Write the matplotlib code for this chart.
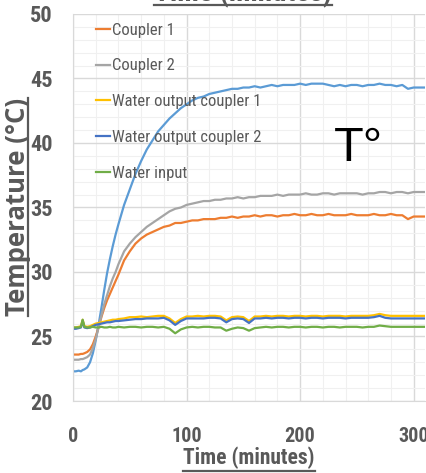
import matplotlib
matplotlib.use("Agg")
import matplotlib.pyplot as plt
from matplotlib.lines import Line2D
from matplotlib.ticker import MultipleLocator

minutes = [0, 2.5, 5, 7, 8.5, 10, 12.5, 15, 17.5, 20, 22.5, 25, 27.5, 30, 32.5, 35, 37.5, 40,
           45, 50, 55, 60, 65, 70, 75, 80, 85, 90, 95, 100, 105, 110, 115, 120, 125, 130,
           135, 140, 145, 150, 155, 160, 165, 170, 175, 180, 185, 190, 195, 200, 205, 210,
           215, 220, 225, 230, 235, 240, 245, 250, 255, 260, 265, 270, 275, 280, 285, 290,
           295, 300, 305, 310]

coupler_3 = [22.3, 22.3, 22.35, 22.3, 22.4, 22.45, 22.6, 23.0, 23.7, 24.7, 25.9, 27.2, 28.6, 29.9,
             31.0, 32.0, 32.9, 33.7, 35.2, 36.4, 37.6, 38.6, 39.5, 40.2, 40.9, 41.4, 41.9, 42.3,
             42.7, 43.0, 43.3, 43.5, 43.6, 43.8, 43.9, 44.0, 44.1, 44.2, 44.2, 44.3, 44.3, 44.4,
             44.3, 44.4, 44.5, 44.4, 44.5, 44.5, 44.5, 44.6, 44.5, 44.6, 44.6, 44.6, 44.5, 44.4,
             44.5, 44.4, 44.5, 44.5, 44.4, 44.5, 44.5, 44.6, 44.5, 44.5, 44.4, 44.5, 44.2, 44.3,
             44.3, 44.3]

coupler_1 = [23.6, 23.6, 23.6, 23.65, 23.65, 23.7, 23.8, 24.0, 24.4, 25.0, 25.7, 26.5, 27.2, 27.8,
             28.3, 28.8, 29.3, 29.8, 30.9, 31.6, 32.2, 32.6, 32.9, 33.1, 33.3, 33.5, 33.6, 33.8,
             33.8, 33.9, 34.0, 34.0, 34.1, 34.1, 34.1, 34.2, 34.2, 34.3, 34.2, 34.3, 34.3, 34.4,
             34.3, 34.4, 34.4, 34.3, 34.4, 34.4, 34.5, 34.4, 34.4, 34.5, 34.4, 34.4, 34.5, 34.4,
             34.4, 34.4, 34.5, 34.4, 34.4, 34.4, 34.5, 34.4, 34.4, 34.5, 34.4, 34.4, 34.1, 34.3,
             34.3, 34.3]

coupler_2 = [23.2, 23.2, 23.2, 23.25, 23.25, 23.3, 23.4, 23.6, 24.1, 24.8, 25.7, 26.6, 27.5, 28.2,
             28.9, 29.5, 30.0, 30.6, 31.6, 32.2, 32.7, 33.1, 33.5, 33.8, 34.1, 34.4, 34.7, 34.9,
             35.0, 35.2, 35.3, 35.4, 35.5, 35.5, 35.6, 35.6, 35.7, 35.7, 35.8, 35.7, 35.8, 35.8,
             35.9, 35.9, 35.9, 36.0, 35.9, 36.0, 36.0, 36.0, 36.1, 36.0, 36.0, 36.1, 36.1, 36.0,
             36.1, 36.1, 36.1, 36.1, 36.0, 36.1, 36.1, 36.2, 36.2, 36.1, 36.2, 36.2, 36.1, 36.2,
             36.2, 36.2]

water_out_1 = [25.7, 25.7, 25.75, 25.8, 26.3, 25.8, 25.75, 25.8, 25.9, 26.0, 26.05, 26.1, 26.15,
               26.2, 26.25, 26.3, 26.3, 26.35, 26.4, 26.5, 26.5, 26.55, 26.5, 26.55, 26.6, 26.6,
               26.4, 26.05, 26.35, 26.55, 26.55, 26.6, 26.55, 26.6, 26.6, 26.55, 26.25, 26.5,
               26.55, 26.5, 26.2, 26.55, 26.55, 26.6, 26.55, 26.6, 26.6, 26.55, 26.6, 26.6, 26.55,
               26.6, 26.6, 26.55, 26.6, 26.6, 26.6, 26.55, 26.6, 26.6, 26.6, 26.6, 26.65, 26.75,
               26.65, 26.6, 26.6, 26.6, 26.6, 26.6, 26.6, 26.6]

water_out_2 = [25.6, 25.6, 25.65, 25.7, 26.2, 25.7, 25.65, 25.7, 25.8, 25.9, 25.95, 26.0, 26.05,
               26.1, 26.1, 26.15, 26.2, 26.2, 26.25, 26.3, 26.35, 26.35, 26.4, 26.4, 26.4, 26.45,
               26.25, 25.9, 26.2, 26.4, 26.4, 26.4, 26.4, 26.45, 26.45, 26.4, 26.1, 26.35, 26.4,
               26.35, 26.05, 26.4, 26.4, 26.45, 26.4, 26.45, 26.45, 26.4, 26.45, 26.45, 26.4,
               26.45, 26.45, 26.4, 26.45, 26.45, 26.45, 26.4, 26.45, 26.45, 26.45, 26.45, 26.5,
               26.6, 26.45, 26.4, 26.4, 26.4, 26.4, 26.4, 26.4, 26.4]

water_in = [25.7, 25.7, 25.7, 25.75, 26.3, 25.75, 25.7, 25.7, 25.75, 25.7, 25.7, 25.75, 25.7,
            25.7, 25.75, 25.7, 25.7, 25.75, 25.7, 25.75, 25.75, 25.7, 25.75, 25.75, 25.7, 25.75,
            25.6, 25.25, 25.55, 25.7, 25.75, 25.7, 25.75, 25.75, 25.7, 25.7, 25.45, 25.6, 25.7,
            25.65, 25.45, 25.65, 25.7, 25.75, 25.7, 25.75, 25.75, 25.7, 25.75, 25.75, 25.7,
            25.75, 25.75, 25.7, 25.75, 25.75, 25.7, 25.75, 25.75, 25.75, 25.7, 25.75, 25.75,
            25.85, 25.8, 25.75, 25.75, 25.75, 25.75, 25.75, 25.75, 25.75]

labels = ["Coupler 1", "Coupler 2", "Water output coupler 1", "Water output coupler 2", "Water input"]
colors = ["#ED7D31", "#A5A5A5", "#FFC000", "#4472C4", "#70AD47"]

narrow = ["Roboto Condensed", "Lato", "DejaVu Sans"]
gray_txt = "#595959"
W, H = 427, 473


def underline(fig, txt, pos, vertical=False, lw=1.6):
    # line under a text (or beside it when rotated), pos in pixels from top-left
    fig.canvas.draw()
    bb = txt.get_window_extent()
    if vertical:
        x = pos / W
        line = Line2D([x, x], [bb.y0 / H, bb.y1 / H], color=gray_txt, lw=lw,
                      transform=fig.transFigure)
    else:
        y = 1 - pos / H
        line = Line2D([bb.x0 / W, bb.x1 / W], [y, y], color=gray_txt, lw=lw,
                      transform=fig.transFigure)
    fig.add_artist(line)


fig = plt.figure(figsize=(W / 100, H / 100), dpi=100)
ax = fig.add_axes([73 / W, 1 - 401 / H, 352 / W, 387 / H])

ax.plot(minutes, coupler_3, color="#5B9BD5", lw=1.6)
ax.plot(minutes, coupler_1, color=colors[0], lw=1.6, label=labels[0])
ax.plot(minutes, coupler_2, color=colors[1], lw=1.6, label=labels[1])
ax.plot(minutes, water_out_1, color=colors[2], lw=1.6, label=labels[2])
ax.plot(minutes, water_out_2, color=colors[3], lw=1.6, label=labels[3])
ax.plot(minutes, water_in, color=colors[4], lw=1.6, label=labels[4])

ax.set_xlim(0, 310)
ax.set_ylim(20, 50)
ax.xaxis.set_major_locator(MultipleLocator(100))
ax.xaxis.set_minor_locator(MultipleLocator(20))
ax.yaxis.set_major_locator(MultipleLocator(5))
ax.yaxis.set_minor_locator(MultipleLocator(1))
ax.grid(which="major", color="#D9D9D9", lw=1.0)
ax.grid(which="minor", color="#F0F0F0", lw=0.8)
ax.set_axisbelow(True)
ax.tick_params(which="both", length=0)
ax.tick_params(axis="y", pad=14.4, labelsize=16, labelcolor=gray_txt)
ax.tick_params(axis="x", pad=19, labelsize=14.5, labelcolor=gray_txt)
for lab in ax.get_xticklabels() + ax.get_yticklabels():
    lab.set_family(narrow)
    lab.set_fontweight("bold")
for side in ["top", "right"]:
    ax.spines[side].set_visible(False)
for side in ["left", "bottom"]:
    ax.spines[side].set_color("#D9D9D9")

leg = ax.legend(loc="upper left", bbox_to_anchor=(0.066, 0.978), frameon=False,
                borderaxespad=0, borderpad=0,
                handlelength=0.85, handletextpad=0.1, labelspacing=1.25,
                prop={"family": narrow, "size": 12})
for t in leg.get_texts():
    t.set_color(gray_txt)

ax.text(251, 39.6, "T°", fontsize=35, family="Liberation Sans", ha="center", va="center",
        color="black")

xl = fig.text(249 / W, 1 - 464 / H, "Time (minutes)", ha="center", va="baseline",
              fontsize=15.5, fontweight="bold", family=narrow, color=gray_txt)
yl = fig.text(25.5 / W, 1 - 207 / H, "Temperature (°C)", ha="center", va="baseline",
              rotation=90, rotation_mode="anchor", fontsize=18.5, fontweight="bold",
              family="Open Sans", color=gray_txt)
tl = fig.text(243 / W, 1 - 1.5 / H, "Time (minutes)", ha="center", va="baseline",
              fontsize=21, fontweight="bold", family=narrow, color=gray_txt)

underline(fig, xl, 471)
underline(fig, yl, 28, vertical=True)
underline(fig, tl, 5)

fig.savefig("out.png", dpi=100)
